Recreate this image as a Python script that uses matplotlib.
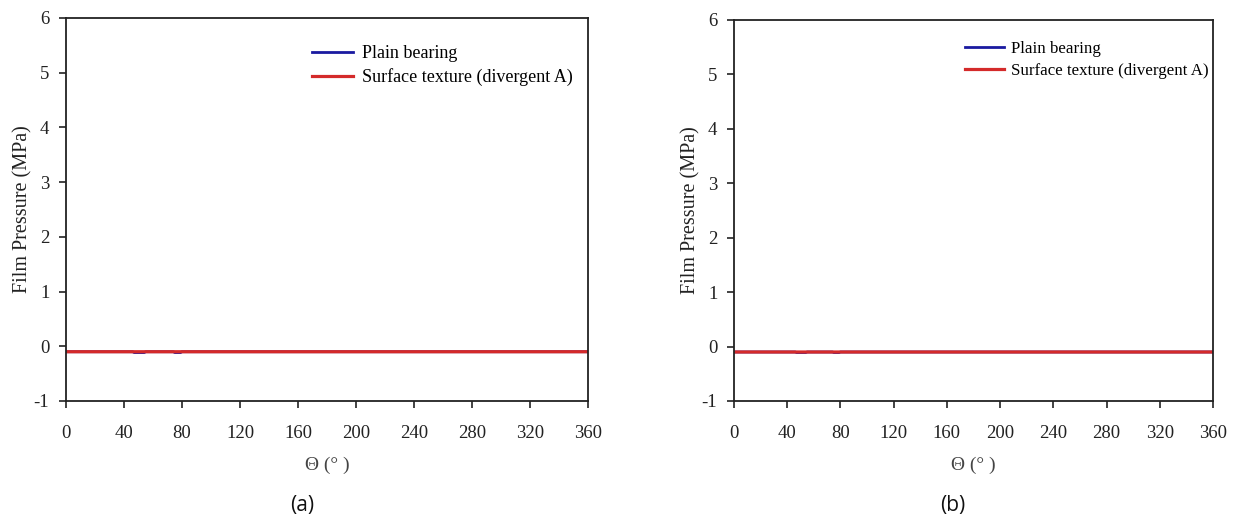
import matplotlib
matplotlib.use("Agg")
import matplotlib.pyplot as plt

# Circumferential angle (degrees) and film pressure (MPa)
theta = [0, 46, 47, 54, 55, 74, 75, 79, 80, 120, 160, 200, 240, 280, 320, 360]
plain_a = [-0.10, -0.10, -0.115, -0.115, -0.10, -0.10, -0.115, -0.115, -0.10,
           -0.10, -0.10, -0.10, -0.10, -0.10, -0.10, -0.10]
texture_a = [-0.10, -0.10, -0.10, -0.10, -0.10, -0.10, -0.10, -0.10, -0.10,
             -0.10, -0.10, -0.10, -0.10, -0.10, -0.10, -0.10]
plain_b = [-0.10, -0.10, -0.11, -0.11, -0.10, -0.10, -0.11, -0.11, -0.10,
           -0.10, -0.10, -0.10, -0.10, -0.10, -0.10, -0.10]
texture_b = [-0.10, -0.10, -0.10, -0.10, -0.10, -0.10, -0.10, -0.10, -0.10,
             -0.10, -0.10, -0.10, -0.10, -0.10, -0.10, -0.10]

x_ticks = [0, 40, 80, 120, 160, 200, 240, 280, 320, 360]
y_ticks = [-1, 0, 1, 2, 3, 4, 5, 6]
series_labels = ["Plain bearing", "Surface texture (divergent A)"]
captions = ["(a)", "(b)"]

serif = "Liberation Serif"
fig = plt.figure(figsize=(12.34, 5.17), dpi=100)

panels = [
    dict(rect=[0.0535, 0.2244, 0.4230, 0.7410], plain=plain_a, tex=texture_a,
         leg=(0.471, 0.929), leg_size=13, cap_x=0.2447),
    dict(rect=[0.5948, 0.2244, 0.3882, 0.7370], plain=plain_b, tex=texture_b,
         leg=(0.482, 0.945), leg_size=12.2, cap_x=0.772),
]

for p, cap in zip(panels, captions):
    ax = fig.add_axes(p["rect"])
    ax.plot(theta, p["plain"], color="#1a1aa0", lw=2.0, snap=False,
            label=series_labels[0])
    ax.plot(theta, p["tex"], color="#d42a2a", lw=2.3, snap=False,
            label=series_labels[1])
    ax.set_xlim(0, 360)
    ax.set_ylim(-1, 6)
    ax.set_xticks(x_ticks)
    ax.set_yticks(y_ticks)
    ax.set_xticklabels([str(v) for v in x_ticks], fontfamily=serif, fontsize=13.5)
    ax.set_yticklabels([str(v) for v in y_ticks], fontfamily=serif, fontsize=13.5)
    ax.tick_params(direction="out", length=5, width=1.2, colors="#222222")
    ax.tick_params(axis="x", pad=12)
    ax.tick_params(axis="y", pad=7)
    for s in ax.spines.values():
        s.set_linewidth(1.3)
        s.set_color("#222222")
    ax.set_ylabel("Film Pressure (MPa)", fontfamily=serif, fontsize=14.5,
                  color="#222222", labelpad=1)
    ax.set_xlabel("\u0398 (\u00b0 )", fontfamily=serif, fontsize=14,
                  color="#444444", labelpad=11)
    ax.legend(loc="upper left", bbox_to_anchor=p["leg"], frameon=False,
              prop={"family": serif, "size": p["leg_size"]}, borderpad=0,
              borderaxespad=0, handlelength=2.3, handletextpad=0.45,
              labelspacing=0.35)
    fig.text(p["cap_x"], 0.023, cap, fontfamily="Open Sans", fontsize=15,
             ha="center", va="center", color="#111111")

fig.savefig("out.png", dpi=100, facecolor="white")
